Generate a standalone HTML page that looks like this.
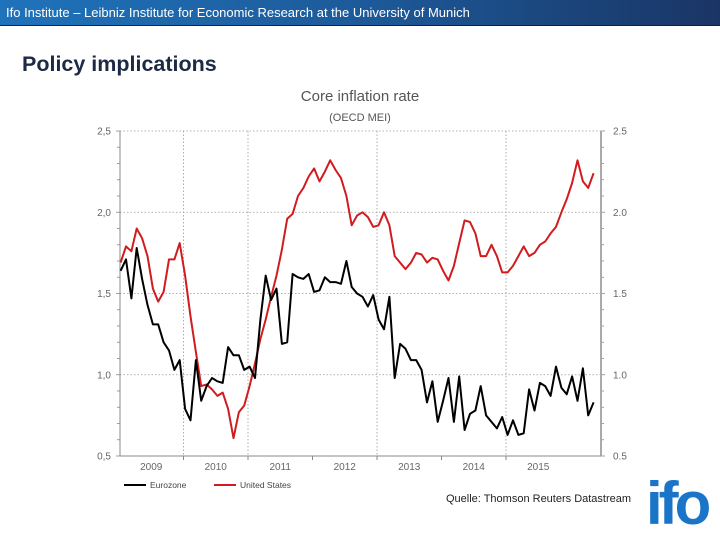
<!DOCTYPE html>
<html><head><meta charset="utf-8">
<style>
body{margin:0;width:720px;height:540px;overflow:hidden;background:#fff;font-family:"Liberation Sans",sans-serif;position:relative}
#hdr{position:absolute;left:0;top:0;width:720px;height:26px;background:linear-gradient(90deg,#1f73bb 0%,#1d5a9a 50%,#1a3565 100%);color:#fff;font-size:13px;line-height:25px;padding-left:6px;box-sizing:border-box;border-bottom:1px solid #123}
#title{position:absolute;left:22px;top:52px;font-size:21.5px;font-weight:bold;color:#1c2a44}
#logo{position:absolute;left:646px;top:474px;font-size:60px;font-weight:bold;color:#1a75c8;letter-spacing:-4px;line-height:60px}
</style></head><body>
<div id="hdr">Ifo Institute – Leibniz Institute for Economic Research at the University of Munich</div>
<div id="title">Policy implications</div>
<svg id="chart" width="720" height="540" style="position:absolute;left:0;top:0" font-family="Liberation Sans, sans-serif">
<text x="360" y="101" text-anchor="middle" font-size="15" fill="#555">Core inflation rate</text>
<text x="360" y="121" text-anchor="middle" font-size="11" fill="#555">(OECD MEI)</text>
<g id="grid"></g><g id="axes"></g><g id="series"></g>
<g>
<line x1="124" y1="485" x2="146" y2="485" stroke="#000" stroke-width="2"/>
<text x="150" y="488" font-size="8.5" fill="#444">Eurozone</text>
<line x1="214" y1="485" x2="236" y2="485" stroke="#d01c1f" stroke-width="2"/>
<text x="240" y="488" font-size="8.5" fill="#444">United States</text>
</g>
<text x="446" y="502" font-size="11" fill="#222">Quelle: Thomson Reuters Datastream</text>
</svg>
<div id="logo">ifo</div>
<script>
const years=["2009","2010","2011","2012","2013","2014","2015"];
const yTicks=[0.5,1.0,1.5,2.0,2.5];
const leftLabels=["0,5","1,0","1,5","2,0","2,5"];
const rightLabels=["0.5","1.0","1.5","2.0","2.5"];
const eurozone=[1.64,1.71,1.47,1.78,1.59,1.43,1.31,1.31,1.20,1.15,1.03,1.09,0.79,0.72,1.09,0.84,0.93,0.98,0.96,0.95,1.17,1.12,1.12,1.03,1.05,0.98,1.34,1.61,1.46,1.53,1.19,1.20,1.62,1.60,1.59,1.62,1.51,1.52,1.60,1.57,1.57,1.56,1.70,1.54,1.50,
1.48,1.42,1.49,1.34,1.28,1.48,0.98,1.19,1.16,1.09,1.09,1.03,0.83,0.96,0.71,0.84,0.98,0.71,0.99,0.66,0.76,0.78,0.93,0.75,0.71,0.67,0.74,0.63,0.72,0.63,0.64,0.91,0.78,0.95,0.93,0.87,1.05,0.92,0.88,0.99,0.84,1.04,0.75,0.83];
const unitedStates=[1.69,1.79,1.76,1.90,1.84,1.73,1.53,1.45,1.51,1.71,1.71,1.81,1.61,1.36,1.14,0.93,0.94,0.91,0.87,0.89,0.79,0.61,0.77,0.81,0.93,1.07,1.22,1.34,1.48,1.61,1.77,1.96,1.99,2.10,2.15,2.22,2.27,2.19,2.25,2.32,2.26,2.21,2.10,1.92,1.98,
2.00,1.97,1.91,1.92,2.00,1.92,1.73,1.69,1.65,1.69,1.75,1.74,1.69,1.72,1.71,1.64,1.58,1.67,1.81,1.95,1.94,1.87,1.73,1.73,1.80,1.73,1.63,1.63,1.67,1.73,1.79,1.73,1.75,1.80,1.82,1.87,1.91,2.00,2.08,2.18,2.32,2.19,2.15,2.24];
const NS="http://www.w3.org/2000/svg";
const X0=120,X1=601,Y0=456,Y1=131,jan09=119,yearW=64.5;
const xm=m=>jan09+yearW*(m+0.3)/12;
const yv=v=>Y0-(v-0.5)/2*(Y0-Y1);
function mk(tag,attrs,parent){const e=document.createElementNS(NS,tag);for(const k in attrs)e.setAttribute(k,attrs[k]);parent.appendChild(e);return e;}
const grid=document.getElementById('grid'),axes=document.getElementById('axes'),ser=document.getElementById('series');
yTicks.forEach((t,i)=>{
  const y=yv(t);
  if(t>0.5){const g=mk('line',{x1:X0,x2:X1,y1:y,y2:y,stroke:'#999','stroke-width':0.8,'stroke-dasharray':'1.5,2'},grid);
  
  }
  const l=mk('text',{x:111,y:y+3.5,'text-anchor':'end','font-size':10,fill:'#666'},axes);l.textContent=leftLabels[i];
  
  
  const r=mk('text',{x:613,y:y+3.5,'font-size':10,fill:'#666'},axes);r.textContent=rightLabels[i];
  
  
});
for(let v=0.5;v<=2.501;v+=0.1){const y=yv(v);const big=Math.abs(v*2-Math.round(v*2))<0.01;
  mk('line',{x1:X0-(big?4:3),x2:X0,y1:y,y2:y,stroke:'#888','stroke-width':0.8},axes);
  mk('line',{x1:X1,x2:X1+(big?4:3),y1:y,y2:y,stroke:'#888','stroke-width':0.8},axes);}
mk('line',{x1:X0,x2:X0,y1:Y1,y2:Y0,stroke:'#888','stroke-width':1},axes);
mk('line',{x1:X1,x2:X1,y1:Y1,y2:Y0,stroke:'#aaa','stroke-width':2},axes);
mk('line',{x1:X0,x2:X1,y1:Y0,y2:Y0,stroke:'#888','stroke-width':1},axes);
years.forEach((yr,i)=>{
  const xs=jan09+yearW*i;
  if(i>0 && [1,2,4,6].includes(i)){const g=mk('line',{x1:xs,x2:xs,y1:Y1,y2:Y0,stroke:'#999','stroke-width':0.8,'stroke-dasharray':'1.5,2'},grid);
  
  }
  if(i>0)mk('line',{x1:xs,x2:xs,y1:Y0,y2:Y0+4,stroke:'#888'},axes);
  const t=mk('text',{x:xs+yearW/2,y:470,'text-anchor':'middle','font-size':10,fill:'#666'},axes);t.textContent=yr;
  
  
});
function line(data,color,name){
  const p=mk('polyline',{points:data.map((v,i)=>xm(i).toFixed(1)+','+yv(v).toFixed(1)).join(' '),fill:'none',stroke:color,'stroke-width':2,'stroke-linejoin':'round'},ser);
  
  
}
line(unitedStates,'#d01c1f','us-line');
line(eurozone,'#000','eurozone-line');
</script>
</body></html>
